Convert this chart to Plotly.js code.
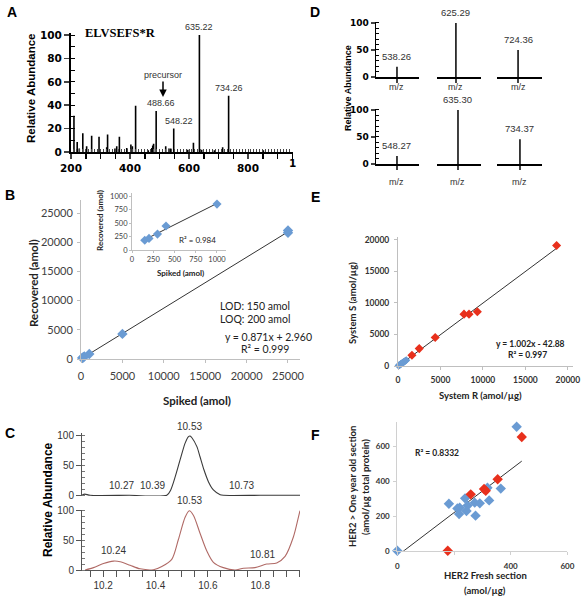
<!DOCTYPE html>
<html><head><meta charset="utf-8">
<script src="https://cdn.plot.ly/plotly-3.0.1.min.js"></script>
<style>html,body{margin:0;padding:0;background:#fff}#chart{width:586px;height:600px}</style>
</head><body><div id="chart"></div>
<script>
// ---------- Panel A: MS/MS spectrum ----------
const aMz = [210,221,228,240,253,270,295,321,324,349,355,364,389,403,408,419,462,474,477,480,488.66,521,532,538,548.22,596,615,635.22,643,686,714,734.26,852];
const aIntensity = [31,8.5,3,16,5,14,13,4,15,3,5,13,3.5,6.5,5,39.5,1.5,3.5,5.5,7,35,5,3,3,20,2,8,100,2,1.5,4,48,1.5];
const aLabelledMz = [488.66, 548.22, 635.22, 734.26];
const aXTickVals = [200,400,600,800];
const aYTickVals = [0,20,40,60,80,100];
const aPeptide = 'ELVSEFS*R';

// ---------- Panel D: fragment ions, two rows ----------
const dRow1Mz = [538.26, 625.29, 724.36];
const dRow1Int = [19, 100, 50];
const dRow2Mz = [548.27, 635.30, 734.37];
const dRow2Int = [15, 100, 46];
const dYTickVals = [0,50,100];

// ---------- Panel B: spiked vs recovered ----------
const bSpiked = [150, 200, 300, 400, 1000, 5000, 25000, 25000];
const bRecovered = [180, 215, 295, 445, 850, 4300, 21600, 22000];
const bSlope = 0.871, bIntercept = 2.960, bR2 = 0.999;
const bTicks = [0,5000,10000,15000,20000,25000];
const bInsetSpiked = [150, 200, 300, 400, 1000];
const bInsetRecovered = [180, 215, 295, 445, 850];
const bInsetR2 = 0.984;
const bInsetTicks = [0,250,500,750,1000];

// ---------- Panel E: System R vs System S ----------
const eBlueR = [60,110,160,210,260,300,350,400,450,500,560,620,680,750,820,900,980];
const eBlueS = [50,100,150,190,240,290,330,380,430,470,530,590,650,700,780,850,930];
const eRedR = [1640, 2500, 4380, 7770, 8360, 9340, 18670];
const eRedS = [1700, 2760, 4510, 8220, 8220, 8590, 19100];
const eSlope = 1.002, eIntercept = -42.88, eR2 = 0.997;
const eTicks = [0,5000,10000,15000,20000];

// ---------- Panel F: fresh vs one-year-old section ----------
const fBlueFresh = [0,421,182,212,220,218,239,248,244,273,291,276,318,324,365];
const fBlueOld   = [0,715,271,244,248,212,302,260,229,277,273,202,363,290,358];
const fRedFresh = [178,439,259,306,312,354];
const fRedOld   = [0,656,325,356,346,412];
const fSlope = 1.243, fIntercept = -29.2, fR2 = 0.8332;
const fXTickVals = [0,400,600];
const fXUnlabelledTicks = [200];
const fYTickVals = [0,200,400,600];

// ---------- Panel C: chromatograms ----------
const cTopTime  = [10.12,10.13,10.15,10.30,10.443,10.458,10.475,10.494,10.513,10.526,10.532,10.539,10.558,10.570,10.585,10.602,10.621,10.647,10.659,10.80,10.952];
const cTopAbund = [1,2,0,0,0,9,31,60,88,99,100,97,82,65,43,23,9,1,0,0,0];
const cBotTime  = [10.131,10.163,10.201,10.239,10.265,10.303,10.341,10.392,10.424,10.462,10.487,10.513,10.529,10.545,10.570,10.596,10.621,10.659,10.704,10.736,10.780,10.825,10.863,10.895,10.927,10.946,10.952];
const cBotAbund = [0,4,11,15,14,8,2,0.5,6,18,51,89,100,92,62,32,13,4,0,3,4,10,12,23,56,89,100];
const cTopLabelX = [10.27, 10.39, 10.53, 10.73];
const cTopLabelY = [0, 0, 100, 0];
const cBotLabelX = [10.24, 10.53, 10.81];
const cBotLabelY = [15, 100, 9];
const cXTickVals = [10.2,10.4,10.6,10.8];
const cYTickVals = [0,50,100];

// ================= drawing =================
const W = 586, H = 600;
const xd = (l, r) => [l / W, r / W];
const yd = (t, b) => [1 - b / H, 1 - t / H];
const PX = v => v / W, PY = v => 1 - v / H;

function ax(o) {
  return Object.assign({showgrid:false, zeroline:false, fixedrange:true, showline:true,
    linecolor:'#000', linewidth:1, ticks:'', tickformat:'d', exponentformat:'none', separatethousands:false}, o);
}
function sticks(mz, inten) {
  const x = [], y = [];
  mz.forEach((m, i) => { x.push(m, m, null); y.push(0, inten[i], null); });
  return {x, y};
}
const fmt = v => v.toFixed(2);

const traces = [];
const layout = {width:W, height:H, margin:{l:0,r:0,t:0,b:0}, paper_bgcolor:'#fff', plot_bgcolor:'rgba(0,0,0,0)', showlegend:false, annotations:[]};
const A = layout.annotations;
function txt(text, x, y, font, extra) {
  A.push(Object.assign({text, xref:'paper', yref:'paper', x:PX(x), y:PY(y), showarrow:false,
    xanchor:'center', yanchor:'middle', font:Object.assign({color:'#000'}, font)}, extra || {}));
}

// ---- A ----
const aS = sticks(aMz, aIntensity);
traces.push({type:'scatter', mode:'lines', x:aS.x, y:aS.y, xaxis:'x', yaxis:'y', line:{color:'#000', width:1.6}, hoverinfo:'skip'});
const aTickFont = {family:'DejaVu Sans', size:10.5, weight:'bold', color:'#000'};
const aRange = [200, 952.5];
layout.xaxis = ax({domain:xd(71,293), range:aRange, anchor:'y', linewidth:2, ticks:'outside', ticklen:5, tickwidth:1.5,
  tickvals:aXTickVals, tickfont:aTickFont,
  minor:{tickmode:'linear', tick0:200, dtick:50, ticks:'outside', ticklen:5, tickwidth:1.5, tickcolor:'#000'}});
// fine comb of small inside ticks along the baseline
traces.push({type:'scatter', mode:'lines', x:[], y:[], xaxis:'x14', yaxis:'y', hoverinfo:'skip'});
layout.xaxis14 = ax({domain:xd(71,293), range:aRange, anchor:'y', overlaying:'x', showline:false, ticks:'inside', ticklen:3,
  tickwidth:1, tickmode:'linear', tick0:200, dtick:10, showticklabels:false});
layout.yaxis = ax({domain:yd(32.7,152), range:[0,102], anchor:'x', linewidth:2, ticks:'outside', ticklen:5, tickwidth:1.5,
  tickvals:aYTickVals, tickfont:aTickFont,
  minor:{tickmode:'linear', tick0:0, dtick:10, ticks:'inside', ticklen:4, tickwidth:1, tickcolor:'#000'}});
aLabelledMz.forEach(m => {
  const i = aMz.indexOf(m);
  A.push({text:fmt(m), xref:'x', yref:'y', x:m, y:aIntensity[i], yanchor:'bottom', xanchor:'center', showarrow:false,
    xshift:(m < 600 ? 5 : 0), yshift:1, font:{family:'Liberation Sans', size:9, color:'#333'}});
});
txt('A', 12, 12, {family:'Liberation Sans', size:14, weight:'bold'});
txt(aPeptide, 120, 33, {family:'Liberation Serif', size:12.5, weight:'bold'});
txt('Relative Abundance', 31, 88, {family:'Liberation Sans', size:11.5, weight:'bold'}, {textangle:-90});
A.push({text:'precursor', xref:'paper', yref:'paper', x:PX(163), y:PY(97), ax:0, ay:-22, showarrow:true,
  arrowhead:2, arrowsize:1, arrowwidth:1.5, arrowcolor:'#000', font:{family:'Liberation Sans', size:9, color:'#333'}});
txt('1', 292, 163, aTickFont);

// ---- D ----
const dCols = [[376,419],[437,481],[497,542]];
const dRows = [{mz:dRow1Mz, it:dRow1Int, top:21.9, bot:77, mzY:87},
               {mz:dRow2Mz, it:dRow2Int, top:108.9, bot:164, mzY:182}];
const dFrac = [[0.488, 0.43, 0.468],[0.488, 0.477, 0.51]];
let n = 2;
dRows.forEach((row, r) => {
  row.mz.forEach((m, c) => {
    const xa = 'x' + n, ya = 'y' + n;
    const s = sticks([m], [row.it[c]]);
    traces.push({type:'scatter', mode:'lines', x:s.x, y:s.y, xaxis:xa, yaxis:ya, line:{color:'#000', width:1.5}, hoverinfo:'skip'});
    const f = dFrac[r][c];
    layout['xaxis' + n] = ax({domain:xd(dCols[c][0], dCols[c][1]), range:[m - 20*f, m + 20*(1-f)], anchor:ya,
      linewidth:1.5, ticks:'outside', ticklen:4, tickwidth:1.5, tickvals:[m], showticklabels:false});
    const yopt = {domain:yd(row.top, row.bot), range:[0,102], anchor:xa};
    if (c === 0) {
      Object.assign(yopt, {linewidth:1.5, ticks:'outside', ticklen:4, tickwidth:1.5, tickvals:dYTickVals,
        tickfont:{family:'DejaVu Sans', size:9, weight:'bold', color:'#000'},
        minor:{tickmode:'linear', tick0:0, dtick:10, ticks:'inside', ticklen:3, tickwidth:1, tickcolor:'#000'}});
    } else {
      Object.assign(yopt, {showline:false, showticklabels:false, ticks:''});
    }
    layout['yaxis' + n] = ax(yopt);
    A.push({text:fmt(m), xref:xa, yref:ya, x:m, y:row.it[c], yanchor:'bottom', xanchor:'center', showarrow:false, yshift:3,
      font:{family:'Liberation Sans', size:9.5, color:'#333'}});
    A.push({text:'m/z', xref:xa, yref:'paper', x:m, y:PY(row.mzY), showarrow:false, xanchor:'center', yanchor:'middle',
      font:{family:'Liberation Sans', size:9, color:'#333'}});
    n++;
  });
});
txt('D', 315, 12, {family:'Liberation Sans', size:14, weight:'bold'});
txt('Relative Abundance', 348, 88, {family:'Liberation Sans', size:9, weight:'bold'}, {textangle:-90});

// ---- B main (x8) ----
const blue = '#6a9bd3', red = '#e8301c';
const bFont = {family:'Lato', size:11, color:'#404040'};
traces.push({type:'scatter', mode:'lines', x:[0, Math.max(...bSpiked)], y:[0, Math.max(...bSpiked)].map(v => bSlope*v + bIntercept),
  xaxis:'x8', yaxis:'y8', line:{color:'#333', width:1}, hoverinfo:'skip'});
traces.push({type:'scatter', mode:'markers', x:bSpiked, y:bRecovered, xaxis:'x8', yaxis:'y8', cliponaxis:false,
  marker:{symbol:'diamond', size:8, color:blue}, hoverinfo:'skip'});
layout.xaxis8 = ax({domain:xd(81,300), range:[0,26450], anchor:'y8', linecolor:'#bfbfbf', ticks:'outside', ticklen:3, tickcolor:'#bfbfbf',
  tickvals:bTicks, tickfont:bFont, ticklabelstandoff:4});
layout.yaxis8 = ax({domain:yd(200,359), range:[0,27226], anchor:'x8', linecolor:'#bfbfbf', ticks:'outside', ticklen:3, tickcolor:'#bfbfbf',
  tickvals:bTicks, tickfont:bFont, ticklabelstandoff:2});
txt('B', 10, 195, {family:'Liberation Sans', size:14, weight:'bold'});
txt('Recovered (amol)', 33, 283, {family:'Lato', size:11.5, weight:'bold', color:'#222'}, {textangle:-90});
txt('Spiked (amol)', 197, 400, {family:'Lato', size:11.5, weight:'bold', color:'#222'});
txt('LOD: 150 amol', 218, 306, {family:'Lato', size:10.5, color:'#222'}, {xanchor:'left'});
txt('LOQ: 200 amol', 218, 319, {family:'Lato', size:10.5, color:'#222'}, {xanchor:'left'});
txt('y = ' + bSlope.toFixed(3) + 'x + ' + bIntercept.toFixed(3), 223, 337, {family:'Lato', size:10.5, color:'#222'}, {xanchor:'left'});
txt('R² = ' + bR2.toFixed(3), 265, 349, {family:'Lato', size:10.5, color:'#222'});

// ---- B inset (x9) least-squares line ----
(function(){
  const nn = bInsetSpiked.length;
  const mx = bInsetSpiked.reduce((a,b)=>a+b,0)/nn, my = bInsetRecovered.reduce((a,b)=>a+b,0)/nn;
  let sxy = 0, sxx = 0;
  bInsetSpiked.forEach((x,i)=>{ sxy += (x-mx)*(bInsetRecovered[i]-my); sxx += (x-mx)*(x-mx); });
  const k = sxy/sxx, b0 = my - k*mx;
  const xs = [Math.min(...bInsetSpiked), Math.max(...bInsetSpiked)];
  traces.push({type:'scatter', mode:'lines', x:xs, y:xs.map(v=>k*v+b0), xaxis:'x9', yaxis:'y9', line:{color:'#333', width:1}, hoverinfo:'skip'});
})();
traces.push({type:'scatter', mode:'markers', x:bInsetSpiked, y:bInsetRecovered, xaxis:'x9', yaxis:'y9', cliponaxis:false,
  marker:{symbol:'diamond', size:7, color:blue}, hoverinfo:'skip'});
const biFont = {family:'Lato', size:7.5, color:'#404040'};
layout.xaxis9 = ax({domain:xd(132,226), range:[0,1106], anchor:'y9', linecolor:'#bfbfbf', ticks:'outside', ticklen:2, tickcolor:'#bfbfbf',
  tickvals:bInsetTicks, tickfont:biFont});
layout.yaxis9 = ax({domain:yd(193,250), range:[0,1056], anchor:'x9', linecolor:'#bfbfbf', ticks:'outside', ticklen:2, tickcolor:'#bfbfbf',
  tickvals:bInsetTicks, tickfont:biFont});
txt('Recovered (amol)', 100, 221, {family:'Lato', size:8, weight:'bold', color:'#222'}, {textangle:-90});
txt('Spiked (amol)', 180, 273, {family:'Lato', size:8, weight:'bold', color:'#222'});
txt('R² = ' + bInsetR2.toFixed(3), 197, 240, {family:'Lato', size:8, color:'#222'});

// ---- E (x10) ----
const eAll = eBlueR.concat(eRedR);
const eX = [0, Math.max(...eAll)];
traces.push({type:'scatter', mode:'lines', x:eX, y:eX.map(v=>eSlope*v+eIntercept), xaxis:'x10', yaxis:'y10', line:{color:'#333', width:1}, hoverinfo:'skip'});
traces.push({type:'scatter', mode:'markers', x:eBlueR, y:eBlueS, xaxis:'x10', yaxis:'y10', cliponaxis:false,
  marker:{symbol:'diamond', size:6, color:blue}, hoverinfo:'skip'});
traces.push({type:'scatter', mode:'markers', x:eRedR, y:eRedS, xaxis:'x10', yaxis:'y10', cliponaxis:false,
  marker:{symbol:'diamond', size:7, color:red}, hoverinfo:'skip'});
const eFont = {family:'Lato', size:8.5, weight:'bold', color:'#333'};
layout.xaxis10 = ax({domain:xd(398,573), range:[0,20600], anchor:'y10', linecolor:'#bfbfbf', ticks:'outside', ticklen:3, tickcolor:'#bfbfbf',
  tickvals:eTicks, tickfont:eFont, ticklabelstandoff:3});
layout.yaxis10 = ax({domain:yd(236.7,366), range:[0,20500], anchor:'x10', linecolor:'#bfbfbf', ticks:'outside', ticklen:3, tickcolor:'#bfbfbf',
  tickvals:eTicks, tickfont:eFont, ticklabelstandoff:3});
txt('E', 315, 197, {family:'Liberation Sans', size:14, weight:'bold'});
txt('System S (amol/µg)', 352, 303, {family:'Lato', size:9.5, weight:'bold', color:'#222'}, {textangle:-90});
txt('System R (amol/µg)', 480, 395, {family:'Lato', size:9.5, weight:'bold', color:'#222'});
txt('y = ' + eSlope.toFixed(3) + 'x - ' + Math.abs(eIntercept).toFixed(2), 530, 344, {family:'Lato', size:8.5, weight:'bold', color:'#222'});
txt('R² = ' + eR2.toFixed(3), 527, 355, {family:'Lato', size:8.5, weight:'bold', color:'#222'});

// ---- F (x11) ----
const fX = [0, Math.max(...fBlueFresh.concat(fRedFresh))];
traces.push({type:'scatter', mode:'lines', x:fX, y:fX.map(v=>fSlope*v+fIntercept), xaxis:'x11', yaxis:'y11', line:{color:'#333', width:1}, hoverinfo:'skip'});
traces.push({type:'scatter', mode:'markers', x:fBlueFresh, y:fBlueOld, xaxis:'x11', yaxis:'y11', cliponaxis:false,
  marker:{symbol:'diamond', size:8, color:blue}, hoverinfo:'skip'});
traces.push({type:'scatter', mode:'markers', x:fRedFresh, y:fRedOld, xaxis:'x11', yaxis:'y11', cliponaxis:false,
  marker:{symbol:'diamond', size:8, color:red}, hoverinfo:'skip'});
const fFont = {family:'Lato', size:8, weight:'bold', color:'#333'};
layout.xaxis11 = ax({domain:xd(397.3,567.4), range:[0,600], anchor:'y11', linecolor:'#d0d0d0', ticks:'outside', ticklen:3, tickcolor:'#d0d0d0',
  tickvals:fXTickVals, tickfont:fFont, ticklabelstandoff:5,
  minor:{tickmode:'array', tickvals:fXUnlabelledTicks, ticks:'outside', ticklen:3, tickcolor:'#d0d0d0'}});
layout.yaxis11 = ax({domain:yd(421.5,550.7), range:[0,745], anchor:'x11', linecolor:'#d0d0d0', ticks:'outside', ticklen:3, tickcolor:'#d0d0d0',
  tickvals:fYTickVals, tickfont:fFont, ticklabelstandoff:2});
txt('F', 315, 435, {family:'Liberation Sans', size:14, weight:'bold'});
txt('HER2 &gt; One year old section', 352, 487, {family:'Lato', size:9.5, weight:'bold', color:'#222'}, {textangle:-90});
txt('(amol/µg total protein)', 365, 487, {family:'Lato', size:9.5, weight:'bold', color:'#222'}, {textangle:-90});
txt('HER2 Fresh section', 485, 575, {family:'Lato', size:9.5, weight:'bold', color:'#222'});
txt('(amol/µg)', 485, 590, {family:'Lato', size:9.5, weight:'bold', color:'#222'});
txt('R² = ' + fR2.toFixed(4), 437, 453, {family:'Lato', size:8.5, weight:'bold', color:'#222'});

// ---- C (x12 top, x13 bottom) ----
const cRange = [10.119, 10.952];
traces.push({type:'scatter', mode:'lines', x:cTopTime, y:cTopAbund, xaxis:'x12', yaxis:'y12', line:{color:'#3a3a3a', width:1.1, shape:'spline', smoothing:0.7}, hoverinfo:'skip'});
traces.push({type:'scatter', mode:'lines', x:cBotTime, y:cBotAbund, xaxis:'x13', yaxis:'y13', line:{color:'#b06a66', width:1.1, shape:'spline', smoothing:0.8}, hoverinfo:'skip'});
const cTickFont = {family:'Liberation Sans', size:10, color:'#333'};
const cY = {ticks:'outside', ticklen:5, tickwidth:1, tickcolor:'#555', linecolor:'#555', tickvals:cYTickVals, tickfont:cTickFont,
  minor:{tickmode:'linear', tick0:0, dtick:10, ticks:'inside', ticklen:3, tickwidth:1, tickcolor:'#777'}};
layout.xaxis12 = ax({domain:xd(82,300), range:cRange, anchor:'y12', showline:false, showticklabels:false, ticks:''});
layout.yaxis12 = ax(Object.assign({domain:yd(433,495.9), range:[-1,105], anchor:'x12'}, cY));
layout.xaxis13 = ax({domain:xd(82,300), range:cRange, anchor:'y13', linecolor:'#555', ticks:'outside', ticklen:6, tickcolor:'#555',
  tickvals:cXTickVals, tickformat:'.1f', tickfont:cTickFont,
  minor:{tickmode:'linear', tick0:10.2, dtick:0.05, ticks:'outside', ticklen:6, tickwidth:1, tickcolor:'#555'}});
layout.yaxis13 = ax(Object.assign({domain:yd(509.5,570.3), range:[-0.5,102], anchor:'x13'}, cY));
cTopLabelX.forEach((t, i) => A.push({text:t.toFixed(2), xref:'x12', yref:'y12', x:t, y:cTopLabelY[i], yanchor:'bottom', xanchor:'center',
  showarrow:false, yshift:2, font:{family:'Liberation Sans', size:10, color:'#333'}}));
cBotLabelX.forEach((t, i) => A.push({text:t.toFixed(2), xref:'x13', yref:'y13', x:t, y:cBotLabelY[i], yanchor:'bottom', xanchor:'center',
  showarrow:false, yshift:3, font:{family:'Liberation Sans', size:10, color:'#333'}}));
txt('C', 10, 433, {family:'Liberation Sans', size:14, weight:'bold'});
txt('Relative Abundance', 48, 500, {family:'Liberation Sans', size:12, weight:'bold'}, {textangle:-90});

Plotly.newPlot('chart', traces, layout, {staticPlot:true, displayModeBar:false});
</script></body></html>
